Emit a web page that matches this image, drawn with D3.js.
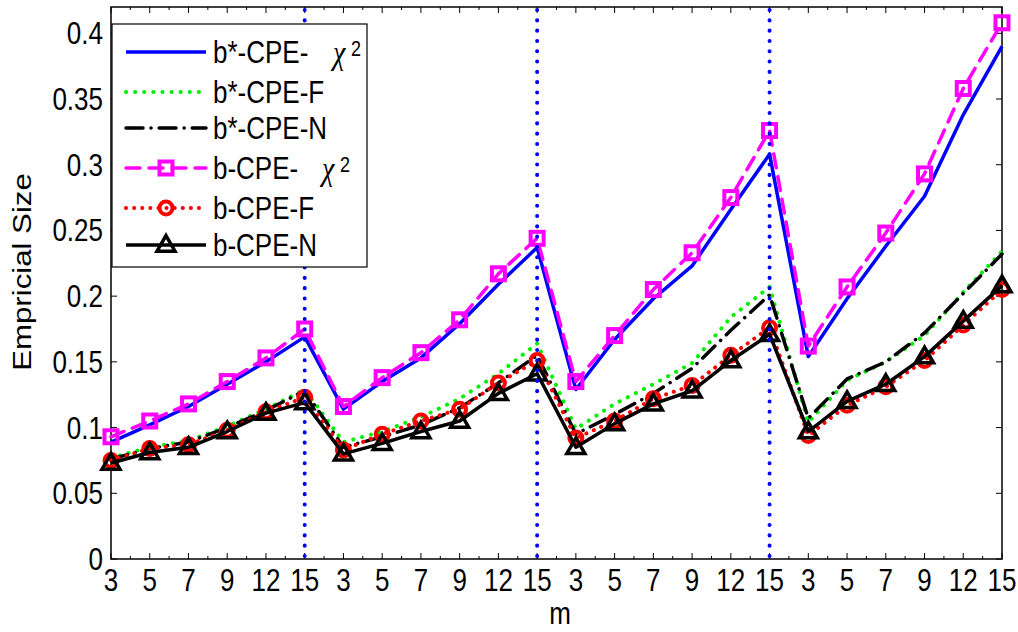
<!DOCTYPE html>
<html>
<head>
<meta charset="utf-8">
<script src="https://cdn.jsdelivr.net/npm/d3@7"></script>
<style>
  body { margin: 0; background: #fff; }
  svg text { font-family: "Liberation Sans", Arial, sans-serif; fill: #000; }
</style>
</head>
<body>
<div id="chart"></div>
<script>
// category labels along x (four blocks of m)
const mLabels = [3, 5, 7, 9, 12, 15, 3, 5, 7, 9, 12, 15, 3, 5, 7, 9, 12, 15, 3, 5, 7, 9, 12, 15];
const yTicks = [0, 0.05, 0.1, 0.15, 0.2, 0.25, 0.3, 0.35, 0.4];
const blockEnds = [5, 11, 17]; // index of the last "15" in first three blocks

const bStarChi = [0.089, 0.102, 0.116, 0.133, 0.150, 0.169, 0.114, 0.135, 0.153, 0.179, 0.209, 0.237,
                  0.129, 0.167, 0.198, 0.223, 0.266, 0.308, 0.154, 0.198, 0.238, 0.276, 0.338, 0.390];
const bStarF   = [0.077, 0.085, 0.090, 0.101, 0.114, 0.129, 0.089, 0.097, 0.108, 0.122, 0.141, 0.164,
                  0.099, 0.118, 0.133, 0.149, 0.184, 0.207, 0.104, 0.136, 0.150, 0.170, 0.203, 0.234];
const bStarN   = [0.076, 0.084, 0.089, 0.100, 0.113, 0.128, 0.085, 0.093, 0.102, 0.115, 0.134, 0.155,
                  0.095, 0.110, 0.126, 0.145, 0.174, 0.201, 0.107, 0.137, 0.150, 0.172, 0.202, 0.232];
const bChi     = [0.093, 0.105, 0.118, 0.135, 0.153, 0.175, 0.116, 0.138, 0.157, 0.182, 0.217, 0.244,
                  0.135, 0.170, 0.205, 0.233, 0.275, 0.326, 0.162, 0.207, 0.248, 0.293, 0.358, 0.408];
const bF       = [0.075, 0.084, 0.087, 0.098, 0.112, 0.123, 0.083, 0.095, 0.105, 0.114, 0.134, 0.151,
                  0.092, 0.105, 0.122, 0.132, 0.155, 0.176, 0.094, 0.117, 0.131, 0.151, 0.178, 0.205];
const bN       = [0.073, 0.081, 0.085, 0.097, 0.111, 0.119, 0.080, 0.088, 0.097, 0.105, 0.126, 0.141,
                  0.085, 0.103, 0.118, 0.128, 0.151, 0.171, 0.097, 0.120, 0.133, 0.154, 0.181, 0.208];

const series = [
  { name: 'b*-CPE-', chi: true, values: bStarChi, color: '#0000ff', dash: null, width: 3.5, marker: null },
  { name: 'b*-CPE-F', values: bStarF, color: '#00ee00', dash: '0.1 9', width: 4, marker: null },
  { name: 'b*-CPE-N', values: bStarN, color: '#000', dash: '17 8 0.1 8', width: 3.5, marker: null },
  { name: 'b-CPE-', chi: true, values: bChi, color: '#ff00ff', dash: '14 9', width: 3.5, marker: 'square' },
  { name: 'b-CPE-F', values: bF, color: '#ff0000', dash: '0.1 8', width: 4, marker: 'circle' },
  { name: 'b-CPE-N', values: bN, color: '#000', dash: null, width: 3.5, marker: 'triangle' }
];

const W = 1018, H = 632;
const box = { left: 111, right: 1002, top: 7, bottom: 559 };
const FS = 26, STRETCH = 1.2; // the original figure's text is a little taller than wide

const svg = d3.select('#chart').append('svg')
  .attr('width', W).attr('height', H);

const x = d3.scaleLinear().domain([0, mLabels.length - 1]).range([box.left, box.right]);
const y = d3.scaleLinear().domain([0, 0.42]).range([box.bottom, box.top]);

// text with the vertical stretch
function label(g, tx, ty, str, anchor, size, extra) {
  return g.append('text')
    .attr('transform', `translate(${tx},${ty}) scale(1,${STRETCH})` + (extra || ''))
    .attr('text-anchor', anchor || 'start')
    .attr('font-size', size || FS)
    .text(str);
}

// axes box
svg.append('rect')
  .attr('x', box.left).attr('y', box.top)
  .attr('width', box.right - box.left).attr('height', box.bottom - box.top)
  .attr('fill', 'none').attr('stroke', '#000').attr('stroke-width', 1.5);

// x ticks (major at categories, minor halfway), inward on bottom and top
const ticks = svg.append('g').attr('stroke', '#000').attr('stroke-width', 1);
d3.range(mLabels.length).forEach(i => {
  ticks.append('line').attr('x1', x(i)).attr('x2', x(i)).attr('y1', box.bottom).attr('y2', box.bottom - 6);
  ticks.append('line').attr('x1', x(i)).attr('x2', x(i)).attr('y1', box.top).attr('y2', box.top + 6);
  if (i < mLabels.length - 1) {
    const xm = x(i + 0.5);
    ticks.append('line').attr('x1', xm).attr('x2', xm).attr('y1', box.bottom).attr('y2', box.bottom - 3);
    ticks.append('line').attr('x1', xm).attr('x2', xm).attr('y1', box.top).attr('y2', box.top + 3);
  }
});
yTicks.forEach(v => {
  ticks.append('line').attr('x1', box.left).attr('x2', box.left + 6).attr('y1', y(v)).attr('y2', y(v));
  ticks.append('line').attr('x1', box.right).attr('x2', box.right - 6).attr('y1', y(v)).attr('y2', y(v));
});

// tick labels
const xl = svg.append('g');
mLabels.forEach((d, i) => label(xl, x(i), 591, d, 'middle'));
const yl = svg.append('g');
yTicks.forEach(v => label(yl, 103, y(v) + 11, d3.format('')(v), 'end'));

label(svg, 560, 624, 'm', 'middle');
svg.append('text')
  .attr('transform', `translate(31,272) scale(1,${STRETCH}) rotate(-90)`)
  .attr('text-anchor', 'middle').attr('font-size', FS).text('Empricial Size');

// series lines
const line = d3.line().x((d, i) => x(i)).y(d => y(d));
const plot = svg.append('g');

function drawMarker(g, type, cx, cy, color) {
  if (type === 'square') {
    g.append('rect').attr('x', cx - 6.5).attr('y', cy - 6.5).attr('width', 13).attr('height', 13)
      .attr('fill', 'none').attr('stroke', color).attr('stroke-width', 4);
  } else if (type === 'circle') {
    g.append('circle').attr('cx', cx).attr('cy', cy).attr('r', 6.5)
      .attr('fill', 'none').attr('stroke', color).attr('stroke-width', 4);
  } else if (type === 'triangle') {
    g.append('path').attr('d', d3.symbol(d3.symbolTriangle, 140)())
      .attr('transform', `translate(${cx},${cy + 1})`)
      .attr('fill', 'none').attr('stroke', color).attr('stroke-width', 3.5)
      .attr('stroke-linejoin', 'miter');
  }
}

series.forEach(s => {
  plot.append('path')
    .attr('d', line(s.values))
    .attr('fill', 'none')
    .attr('stroke', s.color)
    .attr('stroke-width', s.width)
    .attr('stroke-linecap', s.dash ? 'round' : 'butt')
    .attr('stroke-linejoin', 'round')
    .attr('stroke-dasharray', s.dash);
  if (s.marker) {
    s.values.forEach((v, i) => drawMarker(plot, s.marker, x(i), y(v), s.color));
  }
});

// vertical dotted separators
blockEnds.forEach(i => {
  svg.append('line')
    .attr('x1', x(i)).attr('x2', x(i)).attr('y1', box.top + 3).attr('y2', box.bottom)
    .attr('stroke', '#0000ff').attr('stroke-width', 4)
    .attr('stroke-linecap', 'round').attr('stroke-dasharray', '0.1 10.2');
});

// legend
const lg = svg.append('g');
lg.append('rect').attr('x', 112).attr('y', 24).attr('width', 255).attr('height', 243)
  .attr('fill', '#fff').attr('stroke', '#000').attr('stroke-width', 1.2);
const legendY = [52, 92, 128, 168, 208, 245];
series.forEach((s, k) => {
  const ly = legendY[k];
  lg.append('line').attr('x1', 126).attr('x2', 206).attr('y1', ly).attr('y2', ly)
    .attr('stroke', s.color).attr('stroke-width', s.width)
    .attr('stroke-linecap', s.dash ? 'round' : 'butt')
    .attr('stroke-dasharray', s.dash);
  if (s.marker) drawMarker(lg, s.marker, 166, ly, s.color);
  label(lg, 213, ly + 11, s.name);
  if (s.chi) {
    const cx = k === 0 ? 333 : 322;
    label(lg, cx, ly + 12, 'χ', 'start', 28)
      .attr('font-style', 'italic')
      .style('font-family', '"Liberation Serif", "DejaVu Serif", serif');
    label(lg, cx + 18, ly + 4, '2', 'start', 18);
  }
});
</script>
</body>
</html>
